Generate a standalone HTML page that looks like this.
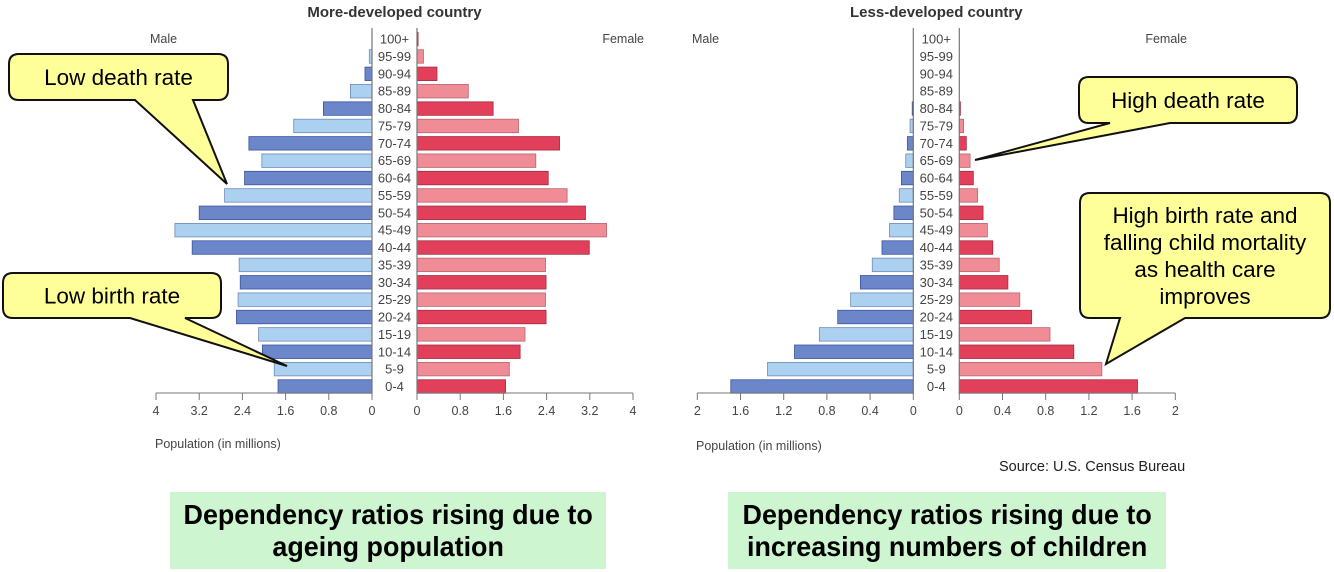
<!DOCTYPE html>
<html><head><meta charset="utf-8">
<style>
body{margin:0;background:#fff;}
#wrap{position:relative;width:1334px;height:572px;overflow:hidden;font-family:"Liberation Sans",sans-serif;}
.green{position:absolute;background:#cdf5cf;display:flex;align-items:center;justify-content:center;text-align:center;font-family:"Liberation Sans Narrow","Liberation Sans",sans-serif;font-weight:bold;font-size:28px;line-height:32px;color:#000;}
</style></head>
<body>
<div id="wrap">
<svg id="svg" width="1334" height="572" style="position:absolute;left:0;top:0"></svg>
<div class="green" style="left:170px;top:492px;width:436px;height:77px"><span style="display:inline-block;transform:scaleX(0.96);white-space:nowrap">Dependency ratios rising due to<br>ageing population</span></div>
<div class="green" style="left:728px;top:492px;width:438px;height:77px"><span style="display:inline-block;transform:scaleX(0.96);white-space:nowrap">Dependency ratios rising due to<br>increasing numbers of children</span></div>
</div>
<script>
const ages = ["0-4","5-9","10-14","15-19","20-24","25-29","30-34","35-39","40-44","45-49","50-54","55-59","60-64","65-69","70-74","75-79","80-84","85-89","90-94","95-99","100+"];
const mdcMale = [1.74,1.81,2.03,2.1,2.51,2.48,2.44,2.46,3.33,3.65,3.2,2.73,2.36,2.04,2.28,1.45,0.9,0.4,0.13,0.05,0.0];
const mdcFemale = [1.64,1.71,1.91,2.0,2.39,2.38,2.39,2.38,3.19,3.51,3.12,2.78,2.43,2.2,2.64,1.88,1.41,0.95,0.37,0.12,0.02];
const ldcMale = [1.69,1.35,1.1,0.87,0.70,0.58,0.49,0.38,0.29,0.22,0.18,0.13,0.11,0.07,0.055,0.03,0.01,0,0,0,0];
const ldcFemale = [1.65,1.32,1.06,0.84,0.67,0.56,0.45,0.37,0.31,0.26,0.22,0.17,0.13,0.1,0.065,0.04,0.01,0,0,0,0];
const mdcTicks = ["4","3.2","2.4","1.6","0.8","0"];
const ldcTicks = ["2","1.6","1.2","0.8","0.4","0"];

const svg = document.getElementById('svg');
const NS = 'http://www.w3.org/2000/svg';
function mk(tag, attrs, parent){const e=document.createElementNS(NS,tag);for(const k in attrs)e.setAttribute(k,attrs[k]);(parent||svg).appendChild(e);return e;}
function txt(x,y,s,attrs){const t=mk('text',Object.assign({x:x,y:y,'font-family':'Liberation Sans, sans-serif','font-size':12,fill:'#333'},attrs||{}));t.textContent=s;return t;}

function pyramid(cfg){
  const g = mk('g',{});
  
  
  const rowY = i => 386.5 - i*17.37;
  const xm = v => cfg.m0 - v*cfg.scale;
  const xf = v => cfg.f0 + v*cfg.scale;
  ages.forEach((a,i)=>{
    const dark = i%2===0;
    const h=13.5, y=rowY(i)-h/2;
    const mv=cfg.male[i], fv=cfg.female[i];
    if(mv>0){
      const r=mk('rect',{x:xm(mv),y:y,width:cfg.m0-xm(mv),height:h,fill:dark?'#6b86c9':'#acd0f0',stroke:dark?'#3d55a0':'#6c8cb8','stroke-width':0.8},g);
      
      
    }
    if(fv>0){
      const r=mk('rect',{x:cfg.f0,y:y,width:xf(fv)-cfg.f0,height:h,fill:dark?'#e2405a':'#f08c96',stroke:dark?'#a52a3e':'#b86570','stroke-width':0.8},g);
      
      
    }
    const t=txt((cfg.m0+cfg.f0)/2,rowY(i)+4.5,a,{'text-anchor':'middle','font-size':13,fill:'#444'});
    
    
  });
  mk('line',{x1:cfg.m0,y1:28,x2:cfg.m0,y2:394,stroke:'#777','stroke-width':1.2},g);
  mk('line',{x1:cfg.f0,y1:28,x2:cfg.f0,y2:394,stroke:'#777','stroke-width':1.2},g);
  mk('line',{x1:xm(cfg.max),y1:393,x2:cfg.m0,y2:393,stroke:'#777'},g);
  mk('line',{x1:cfg.f0,y1:393,x2:xf(cfg.max),y2:393,stroke:'#777'},g);
  cfg.ticks.forEach((s,k)=>{
    const v=parseFloat(s);
    [xm(v),xf(v)].forEach(x=>{
      mk('line',{x1:x,y1:393,x2:x,y2:400,stroke:'#777'},g);
      const t=txt(x,415,s,{'text-anchor':'middle','font-size':12.5,fill:'#444'});
      
      
    });
  });
  const ti=txt((cfg.m0+cfg.f0)/2,17,cfg.title,{'text-anchor':'middle','font-size':15,fill:'#333','font-weight':'bold'});
  
  
  const ml=txt(cfg.maleX,43,'Male',{'font-size':12.5,fill:'#444'});
  
  
  const fl=txt(cfg.femX,43,'Female',{'font-size':12.5,fill:'#444','text-anchor':'end'});
  
  
  const pl=txt(cfg.popX,cfg.popY,'Population (in millions)',{'font-size':12.5,fill:'#444'});
  
  
}
pyramid({name:'more-developed-pyramid',male:mdcMale,female:mdcFemale,m0:372,f0:417,scale:54,max:4,ticks:mdcTicks,title:'More-developed country',maleX:150,femX:644,popX:155,popY:448});
pyramid({name:'less-developed-pyramid',male:ldcMale,female:ldcFemale,m0:913.3,f0:959.3,scale:108,max:2,ticks:ldcTicks,title:'Less-developed country',maleX:692,femX:1187,popX:696,popY:450});

const src=txt(999,471,'Source: U.S. Census Bureau',{'font-size':14.5,fill:'#222'});



function callout(name,x,y,w,h,b1,b2,tx,ty,lines){
  const g=mk('g',{});
  
  
  const r=10;
  const d=`M${x+r},${y} H${x+w-r} Q${x+w},${y} ${x+w},${y+r} V${y+h-r} Q${x+w},${y+h} ${x+w-r},${y+h} H${b2} L${tx},${ty} L${b1},${y+h} H${x+r} Q${x},${y+h} ${x},${y+h-r} V${y+r} Q${x},${y} ${x+r},${y} Z`;
  mk('path',{d:d,fill:'#ffff99',stroke:'#111','stroke-width':2},g);
  const lh=27, cy=y+h/2-(lines.length-1)*lh/2+8;
  lines.forEach((s,i)=>{
    const t=mk('text',{x:x+w/2,y:cy+i*lh,'text-anchor':'middle','font-family':'Liberation Sans, sans-serif','font-size':22.5,fill:'#000'},g);
    t.textContent=s;
  });
}
callout('low-death-rate-callout',9,54,219,46,135,193,227,184,['Low death rate']);
callout('low-birth-rate-callout',3,273,218,45,130,185,287,366,['Low birth rate']);
callout('high-death-rate-callout',1079,77,218,46,1110,1170,975,160,['High death rate']);
callout('high-birth-rate-callout',1080,193,250,125,1120,1185,1106,364,['High birth rate and','falling child mortality','as health care','improves']);
</script>
</body></html>
